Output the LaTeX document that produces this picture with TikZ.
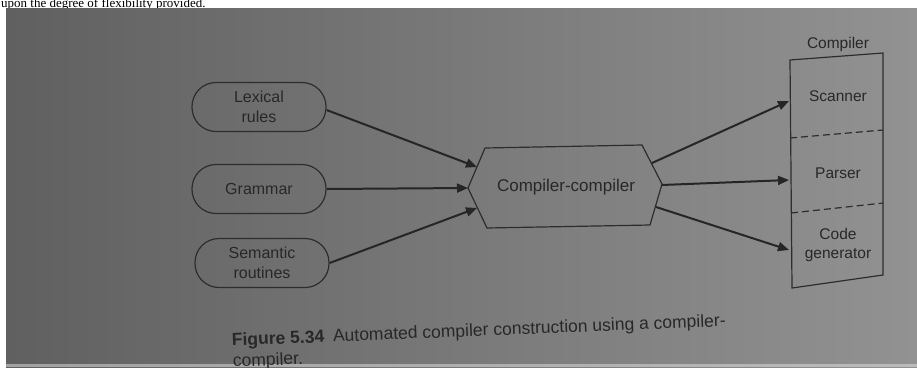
\documentclass[tikz,border=0pt]{standalone}
\usepackage{fontspec}
\setmainfont{Liberation Sans}
\newfontfamily\serifpage{Liberation Serif}
\usetikzlibrary{arrows.meta}
\definecolor{ink}{RGB}{40,40,40}
\definecolor{edge}{RGB}{45,45,45}
\definecolor{paperL}{RGB}{96,96,96}
\definecolor{paperR}{RGB}{146,146,146}
\tikzset{
  inbox/.style={draw=edge, line width=1.2pt, rounded corners=24pt, minimum width=134pt, minimum height=49pt, align=center, text=ink, font=\fontsize{16}{20}\selectfont, inner sep=0pt},
  lbl/.style={text=ink, font=\fontsize{15.5}{19}\selectfont, align=center, inner sep=0pt},
  arr/.style={draw=black!85, line width=2pt, -{Triangle[length=11pt,width=9pt]}},
  part/.style={draw=edge, line width=1.2pt},
  sep/.style={draw=edge, line width=1.2pt, dash pattern=on 7pt off 4pt},
}
\begin{document}
\begin{tikzpicture}[x=1pt,y=-1pt]
\useasboundingbox (0,0) rectangle (917,367);
\clip (0,0) rectangle (917,367);
\fill[white] (0,0) rectangle (917,367);
\node[anchor=base west, inner sep=0pt, font=\serifpage\fontsize{13}{15}\selectfont] (top) at (1,7) {upon the degree of flexibility provided.};
\shade[left color=paperL, right color=paperR] (6,8) rectangle (917,367);
\fill[white!75!paperR, opacity=0.5] (6,364) rectangle (917,367);
% inputs
\node[inbox] (lex) at (259,107) {Lexical\\rules};
\node[inbox] (gram) at (259,189) {Grammar};
\node[inbox] (sem) at (262,263) {Semantic\\routines};
% compiler-compiler hexagon
\coordinate (h1) at (468,188);
\coordinate (h2) at (485,148);
\coordinate (h3) at (642,145);
\coordinate (h4) at (662,184);
\coordinate (h5) at (650,225);
\coordinate (h6) at (487,228);
\draw[part] (h1) -- (h2) -- (h3) -- (h4) -- (h5) -- (h6) -- cycle;
\node[text=ink, font=\fontsize{17}{20}\selectfont, inner sep=0pt] (cc) at (566,187) {Compiler-compiler};
\coordinate (ccin1) at (477,167);
\coordinate (ccin2) at (468,188);
\coordinate (ccin3) at (477,208);
\coordinate (ccout1) at (652,163);
\coordinate (ccout2) at (662,185);
\coordinate (ccout3) at (656,207);
% compiler column
\coordinate (c1) at (790,60);
\coordinate (c2) at (883,53);
\coordinate (c3) at (883,275);
\coordinate (c4) at (792,288);
\draw[part] (c1) -- (c2) -- (c3) -- (c4) -- cycle;
\coordinate (s1l) at (790,138);
\coordinate (s1r) at (883,130);
\coordinate (s2l) at (791,213);
\coordinate (s2r) at (883,203);
\draw[sep] (s1l) -- (s1r);
\draw[sep] (s2l) -- (s2r);
\node[lbl] (comp) at (838,44) {Compiler};
\node[lbl] (scan) at (838,96) {Scanner};
\node[lbl] (pars) at (838,173) {Parser};
\node[lbl] (code) at (838,245) {Code\\generator};
\coordinate (t1) at (789,101);
\coordinate (t2) at (789,180);
\coordinate (t3) at (789,250);
% arrows
\draw[arr] (lex.east) ++(0,3) -- (ccin1);
\draw[arr] (gram.east) -- (ccin2);
\draw[arr] (sem.east) -- (ccin3);
\draw[arr] (ccout1) -- (t1);
\draw[arr] (ccout2) -- (t2);
\draw[arr] (ccout3) -- (t3);
% caption
\node[anchor=base west, inner sep=0pt, rotate=2.3, text=ink, font=\fontsize{17.5}{20}\selectfont] (cap1) at (232,346) {\textbf{Figure 5.34}\enspace Automated compiler construction using a compiler-};
\node[anchor=base west, inner sep=0pt, rotate=2.3, text=ink, font=\fontsize{17.5}{20}\selectfont] (cap2) at (233,367) {compiler.};
\end{tikzpicture}
\end{document}
